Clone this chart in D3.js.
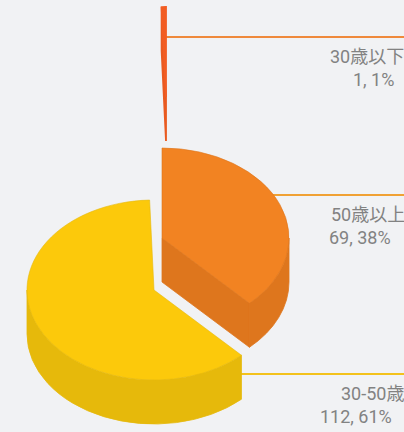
<!DOCTYPE html>
<html>
<head>
<meta charset="utf-8">
<script src="https://cdn.jsdelivr.net/npm/d3@7"></script>
<style>
  body { margin: 0; background: #f1f2f4; }
  svg { display: block; }
</style>
</head>
<body>
<div id="chart"></div>
<script>
// values, in clockwise order from 12 o'clock
const categories = ["50歳以上", "30-50歳", "30歳以下"];
const counts = [69, 112, 1];
const shares = ["38%", "61%", "1%"];

const topColors = ["#f28322", "#fcc90b", "#f25d23"];
const sideColors = ["#de761d", "#e6b90b", "#e95a20"];
const lineColors = ["#f0a133", "#f3c21c", "#ef893b"];

const width = 404, height = 432;

// projected pie geometry
const geo = { cx: 154, cy: 290, rx: 127, ry: 90, depth: 44 };

// each slice sits at its own height
const lift = {
  "50歳以上": { dx: 8, dy: -52 },
  "30-50歳": { dx: 0, dy: 0 },
  "30歳以下": { dx: 12, dy: -193 },
};

// leader line height and text starts
const labelPos = {
  "50歳以上": { lineY: 195, nameX: 331, valueX: 329 },
  "30-50歳": { lineY: 374, nameX: 341, valueX: 320 },
  "30歳以下": { lineY: 37, nameX: 330, valueX: 353 },
};

const svg = d3.select("#chart")
  .append("svg")
  .attr("width", width)
  .attr("height", height);

svg.append("rect")
  .attr("width", width)
  .attr("height", height)
  .attr("fill", "#f1f2f4");

const color = d3.scaleOrdinal().domain(categories).range(topColors);
const sideColor = d3.scaleOrdinal().domain(categories).range(sideColors);
const lineColor = d3.scaleOrdinal().domain(categories).range(lineColors);

const rows = categories.map((name, i) => ({ name, count: counts[i], share: shares[i] }));
const arcs = d3.pie().value(d => d.count).sort(null)(rows);

// point on the top ellipse (z pushes it down)
function pt(c, a, z = 0) {
  return [c.x + geo.rx * Math.sin(a), c.y - geo.ry * Math.cos(a) + z];
}

function topPath(c, s, e) {
  const p0 = pt(c, s), p1 = pt(c, e);
  const large = e - s > Math.PI ? 1 : 0;
  return `M${c.x},${c.y}L${p0}A${geo.rx},${geo.ry} 0 ${large} 1 ${p1}Z`;
}

function sidePath(c, s, e) {
  const a0 = Math.max(s, Math.PI / 2), a1 = Math.min(e, Math.PI * 1.5);
  if (a1 <= a0) return null;
  const d = geo.depth;
  const large = a1 - a0 > Math.PI ? 1 : 0;
  return `M${pt(c, a0)}A${geo.rx},${geo.ry} 0 ${large} 1 ${pt(c, a1)}` +
    `L${pt(c, a1, d)}A${geo.rx},${geo.ry} 0 ${large} 0 ${pt(c, a0, d)}Z`;
}

function cutPath(c, a) {
  const d = geo.depth;
  return `M${c.x},${c.y}L${pt(c, a)}L${pt(c, a, d)}L${c.x},${c.y + d}Z`;
}

// leader lines first, the slices cover their left ends
const labels = svg.append("g");
arcs.forEach(arc => {
  const name = arc.data.name;
  const pos = labelPos[name];
  const x0 = geo.cx + lift[name].dx;
  labels.append("line")
    .attr("x1", x0)
    .attr("x2", width + 10)
    .attr("y1", pos.lineY)
    .attr("y2", pos.lineY)
    .attr("stroke", lineColor(name))
    .attr("stroke-width", 2);
  labels.append("text")
    .attr("x", pos.nameX)
    .attr("y", pos.lineY + 26)
    .text(name);
  labels.append("text")
    .attr("x", pos.valueX)
    .attr("y", pos.lineY + 49)
    .text(`${arc.data.count}, ${arc.data.share}`);
});
labels.selectAll("text")
  .attr("fill", "#828282")
  .style("font-family", "Roboto, 'Noto Sans CJK JP', sans-serif")
  .style("font-size", "18px");

// lowest slice first
const drawOrder = arcs.slice().sort((a, b) => lift[b.data.name].dy - lift[a.data.name].dy);

drawOrder.forEach(arc => {
  const name = arc.data.name;
  const c = { x: geo.cx + lift[name].dx, y: geo.cy + lift[name].dy };
  const g = svg.append("g");
  const s = arc.startAngle, e = arc.endAngle;
  // the thin sliver needs a wider outline to read as a bar
  const thin = e - s < 0.1;
  const sw = thin ? 1.8 : 0.8;

  // inner faces that turn toward the viewer
  if (Math.sin(s) < -1e-6) {
    g.append("path").attr("d", cutPath(c, s))
      .attr("fill", sideColor(name)).attr("stroke", sideColor(name)).attr("stroke-width", sw);
  }
  if (Math.sin(e) > 1e-6) {
    g.append("path").attr("d", cutPath(c, e))
      .attr("fill", sideColor(name)).attr("stroke", sideColor(name)).attr("stroke-width", sw);
  }

  const side = sidePath(c, s, e);
  if (side) {
    g.append("path").attr("d", side)
      .attr("fill", sideColor(name)).attr("stroke", sideColor(name)).attr("stroke-width", sw);
  }

  g.append("path").attr("d", topPath(c, s, e))
    .attr("fill", color(name))
    .attr("stroke", thin ? color(name) : sideColor(name))
    .attr("stroke-width", thin ? 1.8 : 1)
    .attr("stroke-opacity", thin ? 1 : 0.6);
});
</script>
</body>
</html>
